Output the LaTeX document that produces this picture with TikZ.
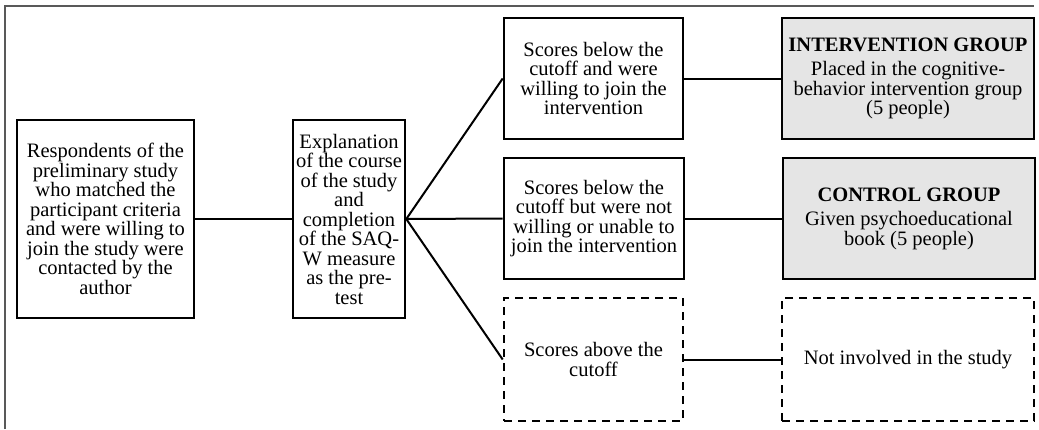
\documentclass[tikz,border=0pt]{standalone}
\usepackage{fontspec}
\setmainfont{Liberation Serif}
\begin{document}
\begin{tikzpicture}[x=1pt,y=-1pt,
  box/.style={draw,line width=2.6pt,inner sep=0pt,align=center,
    font=\fontsize{20.5}{19.5}\selectfont},
  grp/.style={box,fill=black!10},
  excl/.style={box,dash pattern=on 8pt off 6pt},
  link/.style={line width=2pt}]
\useasboundingbox (0,0) rectangle (1039,429);
\draw[black!65,line width=1.4pt] (5,429)--(5,6)--(1034,6);
\node[box,minimum width=177,minimum height=198] (resp) at (105.5,219) {Respondents of the\\preliminary study\\who matched the\\participant criteria\\and were willing to\\join the study were\\contacted by the\\author};
\node[box,minimum width=112,minimum height=198] (expl) at (349,219) {Explanation\\of the course\\of the study\\and\\completion\\of the SAQ-\\W measure\\as the pre-\\test};
\node[box,minimum width=179,minimum height=121] (below) at (593.5,78.5) {Scores below the\\cutoff and were\\willing to join the\\intervention};
\node[box,minimum width=180,minimum height=121] (unable) at (594,218.5) {Scores below the\\cutoff but were not\\willing or unable to\\join the intervention};
\node[excl,minimum width=179,minimum height=123] (above) at (593.5,359.5) {Scores above the\\cutoff};
\node[grp,minimum width=252,minimum height=121] (interv) at (908,78.5) {\textbf{INTERVENTION GROUP}\\[5pt]Placed in the cognitive-\\behavior intervention group\\(5 people)};
\node[grp,minimum width=252,minimum height=121] (control) at (909,218.5) {\textbf{CONTROL GROUP}\\[5pt]Given psychoeducational\\book (5 people)};
\node[excl,minimum width=252,minimum height=123] (none) at (908,359.5) {Not involved in the study};
\draw[link] (resp)--(expl);
\draw[link] (expl.east)--(below.west);
\draw[link] (expl.east)--(unable.west);
\draw[link] (expl.east)--(above.west);
\draw[link] (below)--(interv);
\draw[link] (unable)--(control);
\draw[link] (above)--(none);
\end{tikzpicture}
\end{document}
